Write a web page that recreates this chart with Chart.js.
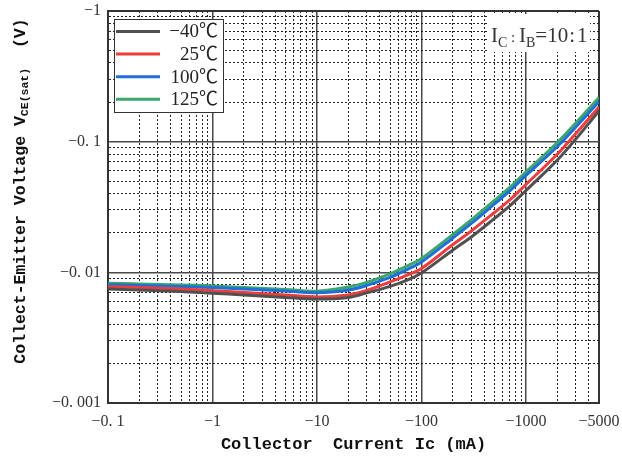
<!DOCTYPE html>
<html>
<head>
<meta charset="utf-8">
<script src="https://cdn.jsdelivr.net/npm/chart.js@4"></script>
<style>
  html, body { margin: 0; padding: 0; background: #fff; }
  #wrap { width: 622px; height: 461px; }
</style>
</head>
<body>
<div id="wrap"><canvas id="chart"></canvas></div>
<script>
// collector current Ic (mA)
var current = [-0.1, -0.2, -0.5, -1, -2, -5, -10, -20, -30, -50, -70, -100, -200, -300, -500, -700, -1000, -2000, -3000, -5000]

// VCE(sat) (V) for each temperature, Ic:Ib = 10:1
var vceM40 = [-0.00746, -0.00733, -0.00714, -0.00692, -0.00672, -0.00643, -0.00626, -0.00643, -0.00696, -0.00780, -0.00860, -0.00989, -0.01484, -0.01866, -0.02585, -0.03221, -0.04232, -0.07244, -0.1049, -0.1717]
var vce25 = [-0.00777, -0.00766, -0.00746, -0.00724, -0.00702, -0.00672, -0.00648, -0.00672, -0.00727, -0.00844, -0.00939, -0.01071, -0.01634, -0.02074, -0.02872, -0.03580, -0.04703, -0.0805, -0.1155, -0.1843]
var vce100 = [-0.00805, -0.00794, -0.00780, -0.00766, -0.00746, -0.00721, -0.00698, -0.00733, -0.00794, -0.00914, -0.01034, -0.01201, -0.01833, -0.02366, -0.03337, -0.04196, -0.05513, -0.0919, -0.1295, -0.2031]
var vce125 = [-0.00825, -0.00815, -0.00801, -0.00787, -0.00766, -0.00740, -0.00718, -0.00773, -0.00837, -0.00972, -0.01100, -0.01278, -0.01950, -0.02517, -0.0355, -0.04462, -0.05865, -0.0986, -0.1390, -0.2179]

var seriesNames = ["\u221240\u2103", "25\u2103", "100\u2103", "125\u2103"]

var xTickValues = [-0.1, -1, -10, -100, -1000, -5000]
var xTickLabels = ["\u22120. 1", "\u22121", "\u221210", "\u2212100", "\u22121000", "\u22125000"]
var yTickValues = [-1, -0.1, -0.01, -0.001]
var yTickLabels = ["\u22121", "\u22120. 1", "\u22120. 01", "\u22120. 001"]

var colors = ["#505050", "#ee3d3d", "#1f6fd8", "#3aa66c"]

// log axes run on |value|, labels put the sign back
function points(vals) {
    return current.map(function (c, i) { return { x: Math.abs(c), y: Math.abs(vals[i]) } })
}

function gridTicks(min, max) {
    var out = []
    for (var e = -4; e <= 4; e++) {
        for (var d = 1; d <= 9; d++) {
            var v = d * Math.pow(10, e)
            if (v >= min * 0.999 && v <= max * 1.001) out.push({ value: v })
        }
    }
    return out
}

function isDecade(v) {
    var l = Math.log10(v)
    return Math.abs(l - Math.round(l)) < 1e-6
}

function labelFor(v, values, labels) {
    for (var i = 0; i < values.length; i++) {
        if (Math.abs(Math.abs(values[i]) - v) / v < 1e-6) return labels[i]
    }
    return ""
}

function isEdge(v, min, max) {
    return Math.abs(v - min) / min < 1e-6 || Math.abs(v - max) / max < 1e-6
}
function gridColor(min, max) {
    return function (ctx) {
        if (!ctx.tick || isEdge(ctx.tick.value, min, max)) return "#333"
        return isDecade(ctx.tick.value) ? "#4a4a4a" : "#222"
    }
}
function gridWidth(min, max) {
    return function (ctx) {
        if (!ctx.tick || isEdge(ctx.tick.value, min, max)) return 2
        return isDecade(ctx.tick.value) ? 1.5 : 1
    }
}
function gridDash(min, max) {
    return function (ctx) {
        if (!ctx.tick) return []
        var v = ctx.tick.value
        if (isDecade(v) || isEdge(v, min, max)) return []
        return [2, 2]
    }
}

var overlay = {
    id: "overlay",
    afterDraw: function (chart) {
        var ctx = chart.ctx
        var a = chart.chartArea
        ctx.save()

        // legend box
        var bx = a.left + 6, by = a.top + 8, bw = 109, bh = 93
        ctx.fillStyle = "#fff"
        ctx.fillRect(bx, by, bw, bh)
        ctx.strokeStyle = "#333"
        ctx.lineWidth = 1
        ctx.strokeRect(bx + 0.5, by + 0.5, bw, bh)
        ctx.font = "19px 'Liberation Serif', 'Noto Sans CJK SC', serif"
        ctx.textAlign = "right"
        ctx.textBaseline = "middle"
        chart.data.datasets.forEach(function (ds, i) {
            var ry = by + 12.5 + i * 22.6
            ctx.strokeStyle = ds.borderColor
            ctx.lineWidth = 3
            ctx.beginPath()
            ctx.moveTo(bx + 2, ry)
            ctx.lineTo(bx + 46, ry)
            ctx.stroke()
            ctx.fillStyle = "#222"
            ctx.fillText(ds.label, bx + bw - 5, ry + 1)
        })

        // Ic:Ib note
        ctx.fillStyle = "#fff"
        ctx.fillRect(a.right - 112, a.top + 3, 103, 38)
        var x = a.right - 108, base = a.top + 31
        ctx.textAlign = "left"
        ctx.textBaseline = "alphabetic"
        ctx.fillStyle = "#333"
        var big = "21px 'Liberation Serif', serif", small = "14px 'Liberation Serif', serif"
        var parts = [["I", big, 0], ["C", small, 5], [" : ", "15px 'Liberation Serif', serif", 0], ["I", big, 0], ["B", small, 5]]
        parts.forEach(function (p) {
            ctx.font = p[1]
            ctx.fillText(p[0], x, base + p[2])
            x += ctx.measureText(p[0]).width
        })
        ctx.font = big
        ctx.fillText("=10", x, base); x += ctx.measureText("=10").width
        ctx.fillText(":", x + 1, base); x += ctx.measureText(":").width + 3
        ctx.fillText("1", x, base)

        // y axis title with subscript
        ctx.translate(21, 191)
        ctx.rotate(-Math.PI / 2)
        ctx.fillStyle = "#111"
        var tMain = "bold 16.5px 'Liberation Mono', monospace", tSub = "bold 11.5px 'Liberation Mono', monospace"
        var segs = [["Collect-Emitter Voltage V", tMain, 0], ["CE(sat)", tSub, 4], ["  (V)", tMain, 0]]
        var total = 0
        segs.forEach(function (s) { ctx.font = s[1]; total += ctx.measureText(s[0]).width })
        var tx = -total / 2
        ctx.textBaseline = "middle"
        segs.forEach(function (s) {
            ctx.font = s[1]
            ctx.fillText(s[0], tx, s[2])
            tx += ctx.measureText(s[0]).width
        })
        ctx.restore()
    }
}

var datasets = [vceM40, vce25, vce100, vce125].map(function (vals, i) {
    return {
        label: seriesNames[i],
        data: points(vals),
        borderColor: colors[i],
        backgroundColor: colors[i],
        borderWidth: 3,
        pointRadius: 0,
        tension: 0.35,
        fill: false
    }
})

var xMin = 0.1, xMax = 5000, yMin = 0.001, yMax = 1

new Chart(document.getElementById("chart"), {
    type: "line",
    data: { datasets: datasets },
    plugins: [overlay],
    options: {
        responsive: true,
        maintainAspectRatio: false,
        animation: false,
        layout: { padding: { top: 11, right: 23, left: 0, bottom: 0 } },
        plugins: { legend: { display: false }, tooltip: { enabled: false } },
        scales: {
            x: {
                type: "logarithmic",
                min: xMin,
                max: xMax,
                afterBuildTicks: function (scale) { scale.ticks = gridTicks(xMin, xMax) },
                afterFit: function (scale) {
                    scale.height = 58
                    scale.paddingLeft = 0
                    scale.paddingRight = 0
                },
                ticks: {
                    autoSkip: false,
                    maxRotation: 0,
                    padding: 9,
                    color: "#333",
                    font: { family: "'Liberation Serif', serif", size: 16 },
                    callback: function (v) { return labelFor(v, xTickValues, xTickLabels) }
                },
                grid: { color: gridColor(xMin, xMax), lineWidth: gridWidth(xMin, xMax), drawTicks: false },
                border: { display: true, color: "#333", width: 2, dash: gridDash(xMin, xMax) },
                title: {
                    display: true,
                    text: "Collector  Current Ic (mA)",
                    color: "#111",
                    font: { family: "'Liberation Mono', monospace", size: 17, weight: "bold" },
                    padding: { top: 0, bottom: 6 }
                }
            },
            y: {
                type: "logarithmic",
                min: yMin,
                max: yMax,
                afterBuildTicks: function (scale) { scale.ticks = gridTicks(yMin, yMax) },
                afterFit: function (scale) {
                    scale.width = 108
                    scale.paddingTop = 0
                    scale.paddingBottom = 0
                },
                ticks: {
                    autoSkip: false,
                    padding: 7,
                    color: "#333",
                    font: { family: "'Liberation Serif', serif", size: 16 },
                    callback: function (v) { return labelFor(v, yTickValues, yTickLabels) }
                },
                grid: { color: gridColor(yMin, yMax), lineWidth: gridWidth(yMin, yMax), drawTicks: false },
                border: { display: true, color: "#333", width: 2, dash: gridDash(yMin, yMax) }
            }
        }
    }
})
</script>
</body>
</html>
